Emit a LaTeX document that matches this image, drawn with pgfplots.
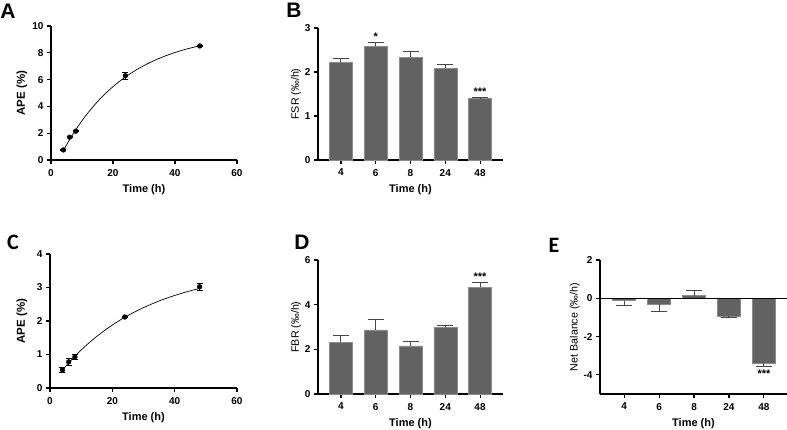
\documentclass[border=0pt]{standalone}
\usepackage{fontspec}
\setmainfont{Liberation Sans}
\newfontfamily\carlito{Carlito}
\usepackage{pgfplots}
\pgfplotsset{compat=1.18}
\definecolor{bargray}{RGB}{98,98,98}
\definecolor{baredge}{RGB}{140,140,140}
\definecolor{errgray}{RGB}{70,70,70}

\pgfplotsset{
  base/.style={
    scale only axis, clip=false,
    axis lines=left, axis line style={-, line width=1.1pt},
    tick style={black, line width=1.1pt}, tick align=outside, major tick length=4pt,
    ticklabel style={font=\bfseries\fontsize{10}{11}\selectfont},
    xticklabel style={yshift=-1.5pt},
    /pgf/number format/assume math mode=true,
  },
  curvepanel/.style={base, xmin=0, xmax=60, xtick={0,20,40,60}, ymin=0},
  barpanel/.style={
    base, ybar, bar width=0.66, bar shift=0pt,
    xmin=-0.66, xmax=4.66, xtick={0,...,4}, xticklabels={4,6,8,24,48},
  },
  bars/.style={fill=bargray, draw=baredge, line width=0.5pt},
  errs/.style={error bars/.cd, y dir=#1, y explicit,
    error bar style={line width=1pt, errgray},
    error mark options={rotate=90, mark size=8pt, line width=1pt, errgray}},
  dots/.style={black, only marks, mark=*, mark size=2.4pt,
    error bars/.cd, y dir=both, y explicit,
    error bar style={line width=0.8pt, black},
    error mark options={rotate=90, mark size=3pt, line width=0.8pt, black}},
}
\newcommand{\stars}[1]{\bfseries\fontsize{11}{12}\selectfont #1}
\newcommand{\timelabel}{\node[font=\bfseries\fontsize{11}{12}\selectfont, yshift=-29.5pt]
  at (axis description cs:0.5,0) {Time (h)};}
\newcommand{\boldylabel}[2]{\node[font=\bfseries\fontsize{11.5}{12}\selectfont, rotate=90]
  at (axis description cs:#1,0.5) {#2};}
\newcommand{\plainylabel}[2]{\node[font=\fontsize{10.7}{12}\selectfont, rotate=90]
  at (axis description cs:#1,0.5) {#2};}

\begin{document}
\begin{tikzpicture}

% A
\begin{axis}[curvepanel, at={(51pt,270pt)}, anchor=south west, width=186pt, height=134pt,
  ymax=10, ytick={0,2,...,10}]
\addplot[black, line width=0.7pt, smooth] coordinates {
 (4,0.709) (6,1.524) (8,2.263) (10,2.934) (12,3.544) (15,4.357) (18,5.060) (21,5.669)
 (24,6.196) (28,6.791) (32,7.282) (36,7.687) (40,8.021) (44,8.297) (48,8.524)};
\addplot[dots] coordinates {
 (4,0.75) +- (0,0.03) (6,1.70) +- (0,0.05) (8,2.15) +- (0,0.05) (24,6.29) +- (0,0.25) (48,8.51) +- (0,0.05)};
\timelabel
\boldylabel{-0.156}{APE (\%)}
\end{axis}

% B
\begin{axis}[barpanel, at={(318pt,270pt)}, anchor=south west, width=185pt, height=132pt,
  ymin=0, ymax=3, ytick={0,1,2,3}]
\addplot[bars, errs=plus] coordinates {
 (0,2.22) +- (0,0.09) (1,2.59) +- (0,0.09) (2,2.34) +- (0,0.12) (3,2.08) +- (0,0.08) (4,1.40) +- (0,0.02)};
\node[anchor=south, inner sep=1pt] at (axis cs:1,2.69) {\stars{*}};
\node[anchor=south, inner sep=1pt] at (axis cs:4,1.43) {\stars{***}};
\timelabel
\plainylabel{-0.119}{FSR (‰/h)}
\end{axis}

% C
\begin{axis}[curvepanel, at={(50pt,42pt)}, anchor=south west, width=187pt, height=134pt,
  ymax=4, ytick={0,1,...,4}]
\addplot[black, line width=0.7pt, smooth] coordinates {
 (4,0.539) (6,0.751) (8,0.949) (10,1.133) (12,1.305) (15,1.540) (18,1.750) (21,1.940)
 (24,2.110) (28,2.310) (32,2.483) (36,2.633) (40,2.762) (44,2.875) (48,2.972)};
\addplot[dots] coordinates {
 (4,0.54) +- (0,0.07) (6,0.78) +- (0,0.11) (8,0.93) +- (0,0.08) (24,2.12) +- (0,0.02) (48,3.02) +- (0,0.10)};
\timelabel
\boldylabel{-0.15}{APE (\%)}
\end{axis}

% D
\begin{axis}[barpanel, at={(318pt,36pt)}, anchor=south west, width=185pt, height=134pt,
  ymin=0, ymax=6, ytick={0,2,4,6}]
\addplot[bars, errs=plus] coordinates {
 (0,2.31) +- (0,0.33) (1,2.87) +- (0,0.45) (2,2.15) +- (0,0.22) (3,2.99) +- (0,0.09) (4,4.79) +- (0,0.21)};
\node[anchor=south, inner sep=1pt] at (axis cs:4,5.02) {\stars{***}};
\timelabel
\plainylabel{-0.119}{FBR (‰/h)}
\end{axis}

% E
\begin{axis}[barpanel, at={(600pt,36pt)}, anchor=south west, width=187pt, height=134pt,
  xmin=-0.69, ymin=-5, ymax=2, ytick={-4,-2,0,2}]
\addplot[bars, errs=minus] coordinates {
 (0,-0.12) +- (0,0.28) (1,-0.30) +- (0,0.41) (3,-0.94) +- (0,0.05) (4,-3.37) +- (0,0.21)};
\addplot[bars, errs=plus] coordinates {(2,0.14) +- (0,0.28)};
\draw[line width=1.1pt] (axis cs:-0.69,0) -- (axis cs:4.66,0);
\node[anchor=north, inner sep=2pt] at (axis cs:4,-3.62) {\stars{***}};
\timelabel
\plainylabel{-0.134}{Net Balance (‰/h)}
\end{axis}

% panel letters
\node[font=\bfseries\fontsize{21}{22}\selectfont] at (8pt,419pt) {A};
\node[font=\bfseries\fontsize{21}{22}\selectfont] at (294pt,420pt) {B};
\node[font=\carlito\bfseries\fontsize{22}{23}\selectfont] at (13pt,188pt) {C};
\node[font=\bfseries\fontsize{21}{22}\selectfont] at (302pt,188pt) {D};
\node[font=\carlito\bfseries\fontsize{22}{23}\selectfont] at (554pt,185pt) {E};

\pgfresetboundingbox
\useasboundingbox (0,0) rectangle (787pt,430pt);
\end{tikzpicture}
\end{document}
